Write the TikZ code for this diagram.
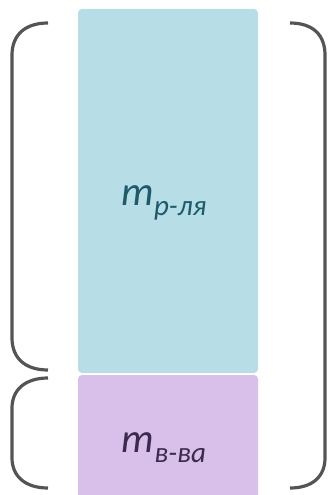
\documentclass[tikz,border=0pt]{standalone}
\usepackage{fontspec}
\setmainfont{Carlito}
\begin{document}
\begin{tikzpicture}[x=1pt,y=-1pt,
  blk/.style={rounded corners=4pt, draw=none},
  brk/.style={draw=black!67, line width=3.2pt},
  lbl/.style={font=\itshape\fontsize{41}{45}\selectfont, anchor=base, inner sep=0pt}]
\useasboundingbox (0,0) rectangle (329,495);
\begin{scope}
\clip (0,0) rectangle (329,495);
\fill[blk, fill={rgb,255:red,183;green,221;blue,231}] (78,9) rectangle (258,373);
\fill[blk, fill={rgb,255:red,217;green,192;blue,234}] (78,375) rectangle (258,510);
\end{scope}
\node[lbl, text={rgb,255:red,31;green,90;blue,106}] (a) at (164,205) {m\raisebox{-10pt}{\fontsize{29}{32}\selectfont р-ля}};
\node[lbl, text={rgb,255:red,58;green,42;blue,77}] (b) at (164,452) {m\raisebox{-10pt}{\fontsize{29}{32}\selectfont в-ва}};
\draw[brk] (48,23) .. controls (25,23) and (12,35) .. (12,55) -- (12,338) .. controls (12,358) and (25,370) .. (48,370);
\draw[brk] (48,378) .. controls (25,378) and (12,390) .. (12,408) -- (12,458) .. controls (12,476) and (25,488) .. (48,488);
\draw[brk] (290,23) .. controls (313,23) and (325,35) .. (325,55) -- (325,458) .. controls (325,476) and (313,488) .. (290,488);
\end{tikzpicture}
\end{document}
